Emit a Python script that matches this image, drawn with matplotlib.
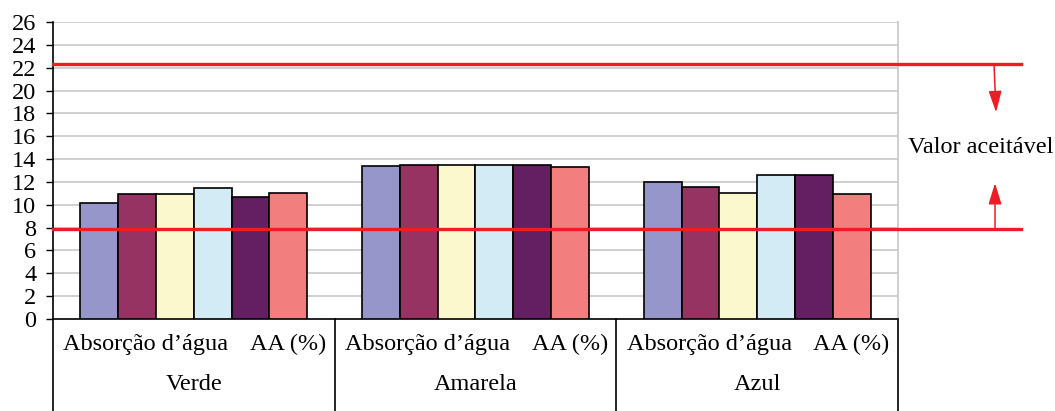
import numpy as np
import matplotlib.pyplot as plt

plt.rcParams['font.family'] = ['Liberation Serif', 'DejaVu Serif']

groups = ['Verde', 'Amarela', 'Azul']
sub_left = 'Absorção d’água'
sub_right = 'AA (%)'

# six samples per colour group
s1 = [10.15, 13.37, 12.02]
s2 = [10.94, 13.49, 11.53]
s3 = [10.92, 13.49, 11.06]
s4 = [11.47, 13.49, 12.64]
s5 = [10.68, 13.49, 12.64]
s6 = [11.03, 13.28, 10.92]
series = [s1, s2, s3, s4, s5, s6]
colors = ['#9696CA', '#973363', '#FAF8CC', '#D3EBF4', '#631F61', '#F27E7E']

limit_low = 7.9
limit_high = 22.3
limit_label = 'Valor aceitável'

fs = 17.5

fig = plt.figure(figsize=(10.55, 4.11), dpi=100)
ax = fig.add_axes([0.0502, 0.2238, 0.8010, 0.7227])

n = len(series)
group_w = 0.805
bw = group_w / n
x = np.arange(len(groups))
for i, (vals, c) in enumerate(zip(series, colors)):
    ax.bar(x - group_w / 2 + bw * (i + 0.5), vals, bw, color=c,
           edgecolor='black', linewidth=1.2, zorder=3)

ax.set_xlim(-0.5, len(groups) - 0.5)
ax.set_ylim(0, 26)
ax.set_yticks(np.arange(0, 27, 2))
ax.tick_params(axis='y', direction='out', length=5, width=1, labelsize=fs, pad=7)
ax.set_xticks([])
for y in range(2, 27, 2):
    ax.axhline(y, color='#C8C8C8', linewidth=1.2, zorder=1)

ax.spines['top'].set_visible(False)
ax.spines['right'].set_color('#C8C8C8')
ax.spines['right'].set_linewidth(1.2)
ax.spines['left'].set_linewidth(1.2)
ax.spines['bottom'].set_linewidth(1.2)

# category table below the axis
tx = ax.get_xaxis_transform()
bottom = -(411 - 319) / 297
for b in np.arange(-0.5, len(groups), 1.0):
    ax.plot([b, b], [0, bottom], color='black', linewidth=1.2,
            transform=tx, clip_on=False)
for i, g in enumerate(groups):
    ax.text(i - 0.17, -0.085, sub_left, transform=tx, ha='center', va='center', fontsize=fs)
    ax.text(i + 0.335, -0.085, sub_right, transform=tx, ha='center', va='center', fontsize=fs)
    ax.text(i, -0.22, g, transform=tx, ha='center', va='center', fontsize=fs)

# acceptable range
ty = ax.get_yaxis_transform()
for lim in [limit_low, limit_high]:
    ax.plot([0, 1.1456], [lim, lim], color='#EE1C25', linewidth=2.4,
            transform=ty, clip_on=False, zorder=5)
arrow = dict(arrowstyle='-|>,head_width=0.4,head_length=1.3',
             color='#EE1C25', linewidth=1.1, shrinkA=0, shrinkB=0)
ax.annotate('', xy=(1.1160, 18.1), xytext=(1.1136, limit_high),
            xycoords=ty, textcoords=ty, arrowprops=arrow)
ax.annotate('', xy=(1.1148, 11.9), xytext=(1.1148, limit_low),
            xycoords=ty, textcoords=ty, arrowprops=arrow)
ax.text(1.098, 15.05, limit_label, transform=ty, ha='center', va='center', fontsize=fs)

fig.savefig('out.png', dpi=100)
